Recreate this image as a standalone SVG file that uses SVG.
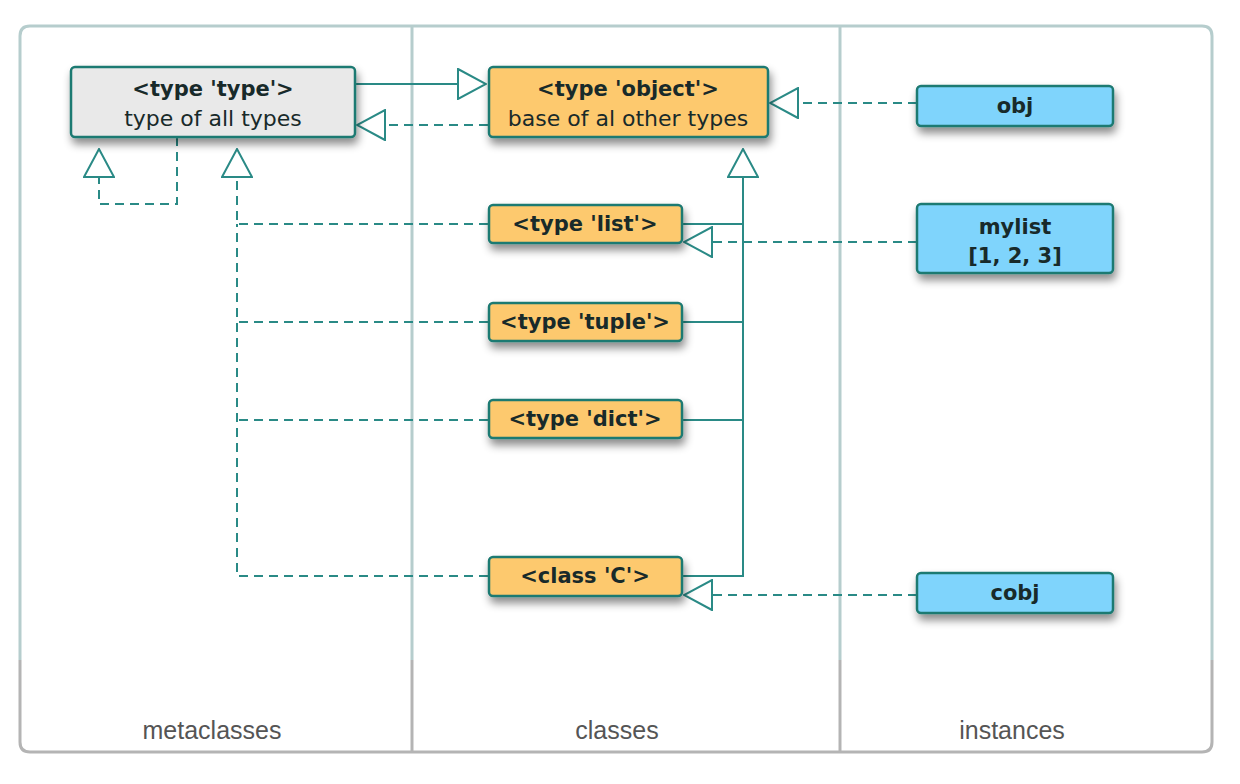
<svg xmlns="http://www.w3.org/2000/svg" width="1240" height="784" viewBox="0 0 1240 784">
<defs>
<filter id="sh" x="-20%" y="-30%" width="150%" height="190%">
<feDropShadow dx="2" dy="6" stdDeviation="4" flood-color="#000" flood-opacity="0.45"/>
</filter>
<marker id="tri" viewBox="0 0 30 32" refX="29" refY="16" markerWidth="30" markerHeight="32" markerUnits="userSpaceOnUse" orient="auto">
<path d="M1,1 L29,16 L1,31 Z" fill="#fff" stroke="#2a8a86" stroke-width="2"/>
</marker>
</defs>
<style>
.frameT{fill:none;stroke:#b6cdcd;stroke-width:3}
.frameB{fill:none;stroke:#b4b4b4;stroke-width:3}
.node rect{stroke:#1e7a72;stroke-width:2.5}
.gray{fill:#e9e9e9}
.orange{fill:#fdc96e}
.blue{fill:#7fd4fc}
.b{font-family:"DejaVu Sans",sans-serif;font-weight:bold;font-size:21px;fill:#182a2a;text-anchor:middle}
.r{font-family:"DejaVu Sans",sans-serif;font-size:22px;fill:#182a2a;text-anchor:middle}
.lab{font-family:"Liberation Sans",Arial,sans-serif;font-size:25px;fill:#555;text-anchor:middle}
.solid{fill:none;stroke:#2a8a86;stroke-width:2}
.dash{fill:none;stroke:#2a8a86;stroke-width:2;stroke-dasharray:9 6}
</style>
<rect width="1240" height="784" fill="#fff"/>
<g id="frame">
<path class="frameT" d="M20,660 V36 Q20,26 30,26 H1202 Q1212,26 1212,36 V660"/>
<path class="frameB" d="M20,660 V742 Q20,752 30,752 H1202 Q1212,752 1212,742 V660"/>
<line class="frameT" x1="412" y1="26" x2="412" y2="660"/>
<line class="frameT" x1="840" y1="26" x2="840" y2="660"/>
<line class="frameB" x1="412" y1="660" x2="412" y2="752"/>
<line class="frameB" x1="840" y1="660" x2="840" y2="752"/>
<text class="lab" x="212" y="739">metaclasses</text>
<text class="lab" x="617" y="739">classes</text>
<text class="lab" x="1012" y="739">instances</text>
</g>
<g id="connectors">
<path class="solid" d="M355,84 H486" marker-end="url(#tri)"/>
<path class="dash" d="M488,125 H357" marker-end="url(#tri)"/>
<path class="dash" d="M917,103 H770" marker-end="url(#tri)"/>
<path class="dash" d="M177,137 V204 H99 V149" marker-end="url(#tri)"/>
<path class="dash" d="M488,224 H237 V149" marker-end="url(#tri)"/>
<path class="dash" d="M488,322 H237"/>
<path class="dash" d="M488,420 H237"/>
<path class="dash" d="M488,576 H237 V224"/>
<path class="solid" d="M682,576 H743 V149" marker-end="url(#tri)"/>
<path class="solid" d="M682,224 H743"/>
<path class="solid" d="M682,322 H743"/>
<path class="solid" d="M682,420 H743"/>
<path class="dash" d="M917,242 H684" marker-end="url(#tri)"/>
<path class="dash" d="M917,595 H684" marker-end="url(#tri)"/>
</g>
<g id="type" class="node">
<rect class="gray" x="71" y="67" width="284" height="70" rx="4" filter="url(#sh)"/>
<text class="b" x="213" y="96">&lt;type 'type'&gt;</text>
<text class="r" x="213" y="126">type of all types</text>
</g>
<g id="object" class="node">
<rect class="orange" x="489" y="67" width="279" height="70" rx="4" filter="url(#sh)"/>
<text class="b" x="628" y="96">&lt;type 'object'&gt;</text>
<text class="r" x="628" y="126">base of al other types</text>
</g>
<g id="list" class="node">
<rect class="orange" x="489" y="205" width="193" height="38" rx="4" filter="url(#sh)"/>
<text class="b" x="585" y="231">&lt;type 'list'&gt;</text>
</g>
<g id="tuple" class="node">
<rect class="orange" x="489" y="303" width="193" height="38" rx="4" filter="url(#sh)"/>
<text class="b" x="585" y="329">&lt;type 'tuple'&gt;</text>
</g>
<g id="dict" class="node">
<rect class="orange" x="489" y="400" width="193" height="38" rx="4" filter="url(#sh)"/>
<text class="b" x="585" y="426">&lt;type 'dict'&gt;</text>
</g>
<g id="classC" class="node">
<rect class="orange" x="489" y="557" width="193" height="39" rx="4" filter="url(#sh)"/>
<text class="b" x="585" y="583">&lt;class 'C'&gt;</text>
</g>
<g id="obj" class="node">
<rect class="blue" x="917" y="86" width="196" height="40" rx="4" filter="url(#sh)"/>
<text class="b" x="1015" y="113">obj</text>
</g>
<g id="mylist" class="node">
<rect class="blue" x="917" y="204" width="196" height="69" rx="4" filter="url(#sh)"/>
<text class="b" x="1015" y="234">mylist</text>
<text class="b" x="1015" y="263">[1, 2, 3]</text>
</g>
<g id="cobj" class="node">
<rect class="blue" x="917" y="573" width="196" height="40" rx="4" filter="url(#sh)"/>
<text class="b" x="1015" y="600">cobj</text>
</g>
</svg>
